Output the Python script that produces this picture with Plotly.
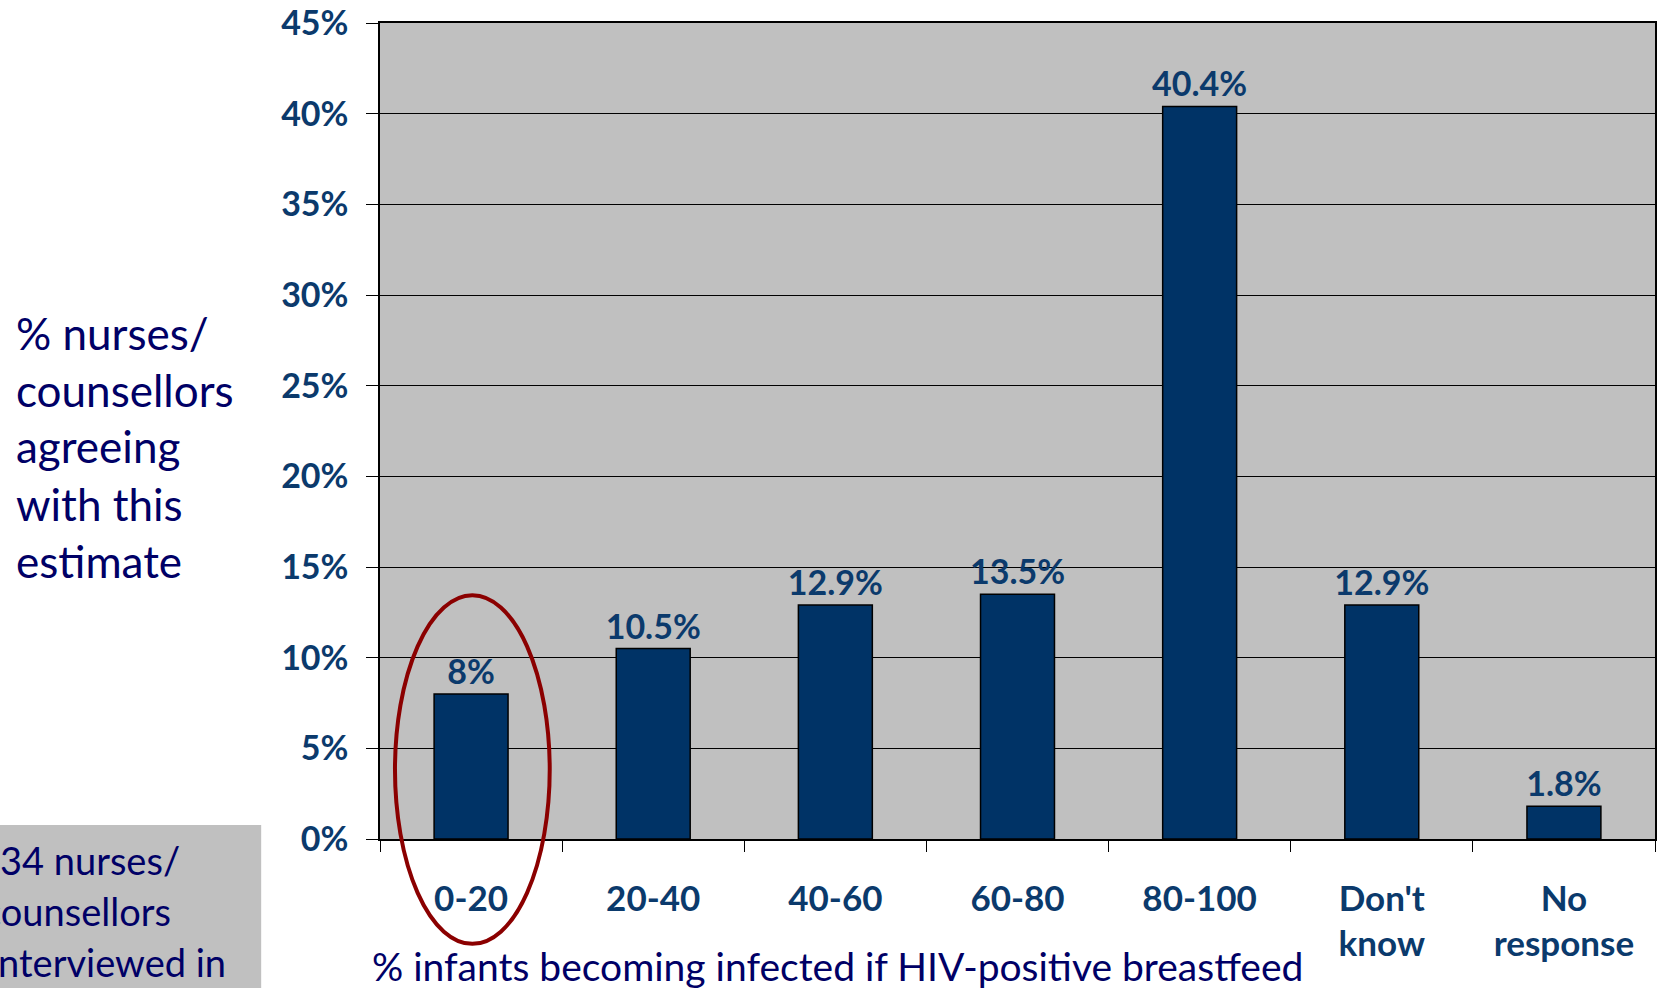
import plotly.graph_objects as go

# ---- data ----
categories = ["0-20", "20-40", "40-60", "60-80", "80-100", "Don't<br>know", "No<br>response"]
values = [8, 10.5, 12.9, 13.5, 40.4, 12.9, 1.8]
value_labels = [f"{v:g}%" for v in values]
y_ticks = [0, 5, 10, 15, 20, 25, 30, 35, 40, 45]
y_tick_labels = [f"{v}%" for v in y_ticks]
y_title_lines = ["% nurses/", "counsellors", "agreeing", "with this", "estimate"]
x_title = "% infants becoming infected if HIV-positive breastfeed"
box_lines = ["34 nurses/", "counsellors", "interviewed in"]

# ---- layout geometry (pixels) ----
W, H = 1658, 988
L, R, T, B = 380, 1, 22, 149
PW = W - L - R
PH = H - T - B
BOTTOM = H - B


def px_x(p):
    return (p - L) / PW


def px_y(p):
    return (BOTTOM - p) / PH


LABEL_COLOR = "#0B3A6C"
TITLE_COLOR = "#000066"
BAR_COLOR = "#003366"
FONT = "Lato"

fig = go.Figure()
fig.add_trace(go.Bar(
    x=categories,
    y=values,
    text=value_labels,
    texttemplate="%{text}",
    marker=dict(color=BAR_COLOR, line=dict(color="black", width=1.5)),
    textposition="outside",
    constraintext="none",
    textfont=dict(family=FONT, size=34, color=LABEL_COLOR, weight="bold"),
    cliponaxis=False,
    hoverinfo="skip",
))

annotations = []
# left y-axis title, one line per annotation
y_title_centers = [332, 389, 446, 504, 561]
for line, yc in zip(y_title_lines, y_title_centers):
    annotations.append(dict(
        text=line, xref="paper", yref="paper", x=px_x(13), y=px_y(yc),
        xanchor="left", yanchor="middle", showarrow=False,
        font=dict(family=FONT, size=44, color=TITLE_COLOR),
    ))

# x-axis title
annotations.append(dict(
    text=x_title, xref="paper", yref="paper", x=px_x(838), y=px_y(966),
    xanchor="center", yanchor="middle", showarrow=False,
    font=dict(family=FONT, size=39, color=TITLE_COLOR),
))

# grey box text (cut off by the page edge, as in the original slide)
box_x = [-3, -20, -14]
box_y = [860, 911, 962]
for line, bx, by in zip(box_lines, box_x, box_y):
    annotations.append(dict(
        text=line, xref="paper", yref="paper", x=px_x(bx), y=px_y(by),
        xanchor="left", yanchor="middle", showarrow=False,
        font=dict(family=FONT, size=38, color=TITLE_COLOR),
    ))

shapes = [
    dict(type="rect", xref="paper", yref="paper",
         x0=px_x(-5), x1=px_x(261), y0=px_y(825), y1=px_y(H + 5),
         fillcolor="#C0C0C0", line=dict(width=0), layer="below"),
    dict(type="circle", xref="paper", yref="paper",
         x0=px_x(395), x1=px_x(550), y0=px_y(944), y1=px_y(595),
         line=dict(color="#8B0000", width=4), layer="above"),
]

fig.update_layout(
    width=W, height=H,
    margin=dict(l=L, r=R, t=T, b=B, pad=0),
    paper_bgcolor="white",
    plot_bgcolor="#C0C0C0",
    bargap=0.594,
    showlegend=False,
    annotations=annotations,
    shapes=shapes,
    font=dict(family=FONT),
)

fig.update_yaxes(
    range=[0, 45], tickmode="array", tickvals=y_ticks, ticktext=y_tick_labels,
    showgrid=True, gridcolor="black", gridwidth=1,
    showline=True, linecolor="black", linewidth=1.5, mirror=True,
    ticks="outside", ticklen=12, tickcolor="black", tickwidth=1.2,
    tickfont=dict(family=FONT, size=34, color=LABEL_COLOR, weight="bold"),
    ticklabelstandoff=11, ticklabeloverflow="allow", zeroline=False,
)
fig.update_xaxes(
    showline=True, linecolor="black", linewidth=1.5, mirror=True,
    ticks="outside", ticklen=11, tickcolor="black", tickwidth=1.2,
    tickson="boundaries",
    tickfont=dict(family=FONT, size=35, color=LABEL_COLOR, weight="bold"),
    ticklabelstandoff=28, ticklabeloverflow="allow", tickangle=0,
)

fig.write_html("out.html")
